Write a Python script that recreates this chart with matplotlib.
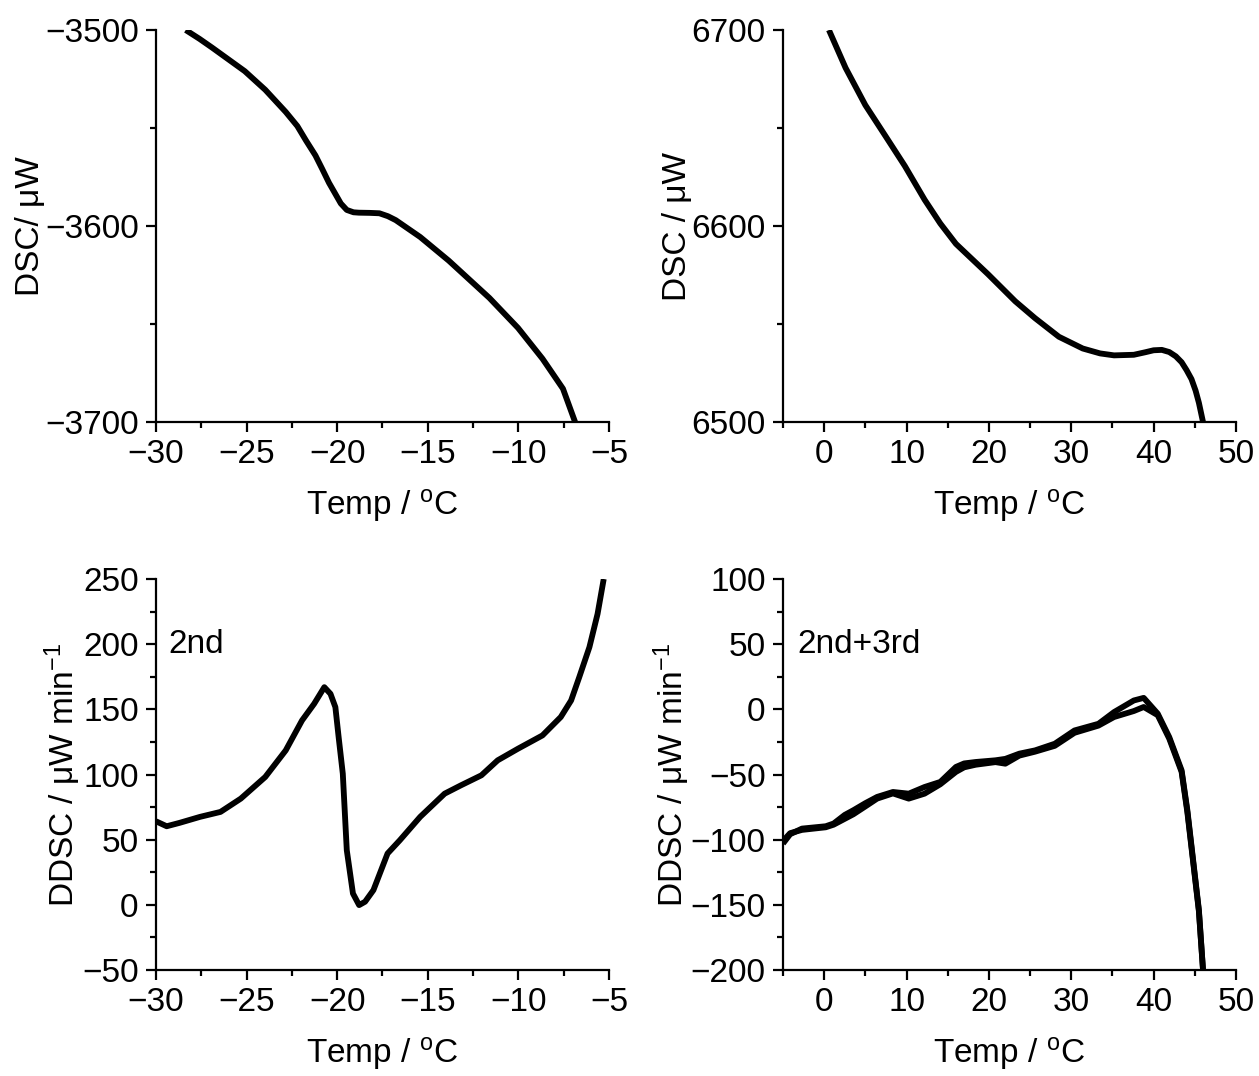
import matplotlib
matplotlib.use("Agg")
import matplotlib.pyplot as plt
from matplotlib.ticker import MultipleLocator

plt.rcParams['font.family'] = ['Liberation Sans', 'DejaVu Sans']
plt.rcParams['mathtext.fontset'] = 'custom'
plt.rcParams['mathtext.rm'] = 'Liberation Sans'
plt.rcParams['mathtext.it'] = 'Liberation Sans'

# DSC, primer barrido (-30 a -5 C)
T1 = [-28.36, -27.6, -26.9, -25.1, -23.97, -22.84, -22.2, -21.72, -21.2, -20.82, -20.45,
      -20.14, -19.8, -19.47, -19.1, -18.8, -18.2, -17.67, -17.2, -16.77, -15.42, -13.84,
      -11.6, -10.02, -8.67, -7.54, -6.87]
DSC1 = [-3500, -3504.5, -3509, -3521, -3530.5, -3541.8, -3549, -3556.4, -3564, -3571, -3578,
        -3583, -3588.5, -3591.8, -3593.0, -3593.2, -3593.3, -3593.5, -3595, -3597, -3605.6,
        -3617.7, -3636.7, -3652, -3667.7, -3683, -3700]

# DSC, segundo barrido (-5 a 50 C)
T2 = [0.58, 2.6, 5.0, 7.4, 9.8, 12.2, 14.1, 16.0, 19.9, 23.2, 25.6, 28.5, 31.4,
      33.5, 35.2, 37.6, 39.0, 40.0, 41.0, 41.9, 42.7, 43.4, 44.0, 44.6, 45.1, 45.5, 46.0]
DSC2 = [6700, 6680.7, 6661.7, 6646.2, 6630.6, 6613.4, 6601.3, 6590.9, 6575.4, 6561.6,
        6553, 6543.5, 6537.5, 6535, 6534, 6534.3, 6535.6, 6536.6, 6536.8, 6535.7, 6533.5,
        6530.5, 6526.5, 6521.9, 6516, 6509.8, 6500]

# DDSC 2nd
T3 = [-30, -29.41, -28.7, -27.57, -26.44, -25.32, -23.97, -22.84, -21.94, -21.27,
      -20.71, -20.37, -20.1, -19.92, -19.69, -19.47, -19.13, -18.79, -18.46, -18.0,
      -17.22, -16.54, -15.42, -14.07, -13.17, -12.04, -11.14, -10.02, -8.67, -7.66,
      -7.09, -6.64, -6.08, -5.63, -5.29]
DDSC3 = [64.1, 60.3, 62.9, 67.5, 71.3, 81.5, 98.1, 118.5, 141.5, 154.3,
         167.0, 161.9, 151.7, 128.7, 100.6, 41.9, 8.7, -0.2, 2.4, 11.3,
         39.4, 49.6, 67.5, 85.3, 91.7, 99.4, 110.9, 119.8, 130.0, 144.1,
         156.8, 174.7, 197.7, 223.2, 250]

# DDSC 2nd + 3rd
T4a = [-5, -4.13, -2.69, 0.19, 1.15, 2.5, 3.55, 5.0, 6.43, 8.35, 10.27, 12.19, 14.1,
       16.0, 17.0, 18.4, 20.8, 22.0, 23.7, 25.6, 28.0, 30.4, 33.3, 35.2, 37.6, 38.8,
       40.5, 41.9, 43.4, 44.1, 44.8, 45.5, 46.0]
DDSC4a = [-103, -95.8, -91.5, -89.7, -87.6, -81.0, -77.4, -72.0, -67.2, -63.4, -64.7,
          -59.6, -55.7, -44.2, -41.5, -40.4, -39.1, -38.0, -34.0, -31.5, -26.4, -16.2,
          -11.1, -2.1, 6.8, 8.8, -3.3, -21.3, -46.8, -77.4, -115.7, -154, -200]
T4b = [-5, -4.13, -2.69, 0.19, 1.15, 2.5, 3.55, 5.0, 6.43, 8.35, 10.27, 12.19, 14.1,
       16.0, 17.0, 18.4, 20.8, 22.0, 23.7, 25.6, 28.0, 30.4, 33.3, 35.2, 37.6, 38.8,
       40.5, 41.9, 43.4, 44.1, 44.8, 45.5, 46.0]
DDSC4b = [-101, -95.0, -92.5, -90.5, -88.5, -84.0, -80.5, -74.5, -68.5, -64.5, -68.5,
          -64.7, -57.5, -48.0, -44.5, -42.5, -40.5, -41.7, -35.5, -32.5, -28.0, -18.0,
          -12.5, -5.9, -1.3, 1.8, -4.5, -22.5, -48.0, -79.0, -117.0, -155, -200]

fig = plt.figure(figsize=(12.59, 10.76), dpi=100)
ax1 = fig.add_axes([0.1239, 0.6078, 0.3598, 0.3643])
ax2 = fig.add_axes([0.6219, 0.6078, 0.3598, 0.3643])
ax3 = fig.add_axes([0.1239, 0.0985, 0.3598, 0.3634])
ax4 = fig.add_axes([0.6219, 0.0985, 0.3598, 0.3634])

lw = 4.2
ax1.plot(T1, DSC1, color='black', lw=lw, solid_capstyle='butt')
ax2.plot(T2, DSC2, color='black', lw=lw, solid_capstyle='butt')
ax3.plot(T3, DDSC3, color='black', lw=lw, solid_capstyle='butt')
ax4.plot(T4a, DDSC4a, color='black', lw=lw, solid_capstyle='butt')
ax4.plot(T4b, DDSC4b, color='black', lw=lw, solid_capstyle='butt')

ax1.set_xlim(-30, -5)
ax1.set_ylim(-3700, -3500)
ax2.set_xlim(-5, 50)
ax2.set_ylim(6500, 6700)
ax3.set_xlim(-30, -5)
ax3.set_ylim(-50, 250)
ax4.set_xlim(-5, 50)
ax4.set_ylim(-200, 100)

ax1.xaxis.set_major_locator(MultipleLocator(5))
ax1.xaxis.set_minor_locator(MultipleLocator(2.5))
ax1.yaxis.set_major_locator(MultipleLocator(100))
ax1.yaxis.set_minor_locator(MultipleLocator(50))
ax2.xaxis.set_major_locator(MultipleLocator(10))
ax2.xaxis.set_minor_locator(MultipleLocator(5))
ax2.yaxis.set_major_locator(MultipleLocator(100))
ax2.yaxis.set_minor_locator(MultipleLocator(50))
ax3.xaxis.set_major_locator(MultipleLocator(5))
ax3.xaxis.set_minor_locator(MultipleLocator(2.5))
ax3.yaxis.set_major_locator(MultipleLocator(50))
ax3.yaxis.set_minor_locator(MultipleLocator(25))
ax4.xaxis.set_major_locator(MultipleLocator(10))
ax4.xaxis.set_minor_locator(MultipleLocator(5))
ax4.yaxis.set_major_locator(MultipleLocator(50))
ax4.yaxis.set_minor_locator(MultipleLocator(25))

for ax in [ax1, ax2, ax3, ax4]:
    ax.spines['top'].set_visible(False)
    ax.spines['right'].set_visible(False)
    ax.spines['left'].set_linewidth(1.6)
    ax.spines['bottom'].set_linewidth(1.6)
    ax.tick_params(which='major', direction='out', length=7.5, width=1.6,
                   labelsize=24, pad=5)
    ax.tick_params(which='minor', direction='out', length=4, width=1.6)
    ax.set_xlabel('Temp / $\\mathregular{^{o}}$C', fontsize=24, labelpad=12)

ax1.set_ylabel('DSC/ \u03bcW', fontsize=24, labelpad=-1)
ax2.set_ylabel('DSC / \u03bcW', fontsize=24, labelpad=-1)
ax3.set_ylabel('DDSC / \u03bcW min$\\mathregular{^{-1}}$', fontsize=24, labelpad=-1)
ax4.set_ylabel('DDSC / \u03bcW min$\\mathregular{^{-1}}$', fontsize=24, labelpad=-1)

ax3.text(-29.3, 200, '2nd', fontsize=24, va='center', ha='left')
ax4.text(-3.3, 50, '2nd+3rd', fontsize=24, va='center', ha='left')

plt.savefig('out.png', dpi=100)
